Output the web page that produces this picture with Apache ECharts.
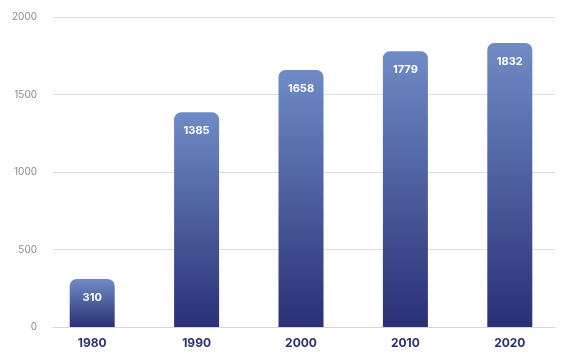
<!DOCTYPE html>
<html><head><meta charset="utf-8">
<script src="https://cdn.jsdelivr.net/npm/echarts@6/dist/echarts.min.js"></script>
<style>html,body{margin:0;padding:0;background:#fff}#c{width:567px;height:356px}</style>
</head><body><div id="c"></div>
<script>
const categories = ['1980','1990','2000','2010','2020'];
const values = [310, 1385, 1658, 1779, 1832];
const yTicks = [0, 500, 1000, 1500, 2000];

const chart = echarts.init(document.getElementById('c'), null, {renderer:'canvas'});
const fontFam = 'Inter, "Open Sans", sans-serif';
chart.setOption({
  animation:false,
  grid:[
    {left:40, right:5, top:17, bottom:29},
    {left:53, right:12, top:17, bottom:29}
  ],
  xAxis:[
    {type:'category', gridIndex:0, data:categories,
     axisLine:{show:false}, axisTick:{show:false},
     axisLabel:{color:'#2b3170', fontWeight:'bold', fontSize:12, margin:10, fontFamily:fontFam}},
    {type:'category', gridIndex:1, data:categories, show:true,
     axisLine:{show:true, lineStyle:{color:'#d6d6d6'}}, axisTick:{show:false}, axisLabel:{show:false}}
  ],
  yAxis:[
    {type:'value', gridIndex:0, min:yTicks[0], max:yTicks[yTicks.length-1], interval:500, show:false, splitLine:{show:false}},
    {type:'value', gridIndex:1, min:yTicks[0], max:yTicks[yTicks.length-1], interval:500,
     axisLine:{show:false}, axisTick:{show:false},
     axisLabel:{color:'#8a8a8a', fontSize:10, margin:16, fontFamily:fontFam, formatter:v=>String(v)},
     splitLine:{lineStyle:{color:'#dcdcdc'}}}
  ],
  series:[{
    type:'bar', xAxisIndex:0, yAxisIndex:0, data:values, barWidth:45, z:3,
    itemStyle:{
      borderRadius:[7,7,0,0],
      color:new echarts.graphic.LinearGradient(0,0,0,1,[{offset:0,color:'#6f8bc6'},{offset:1,color:'#2a3076'}])
    },
    label:{show:true, position:'insideTop', distance:13, color:'#fff', fontWeight:'bold', fontSize:11, fontFamily:fontFam}
  }]
});
</script></body></html>
